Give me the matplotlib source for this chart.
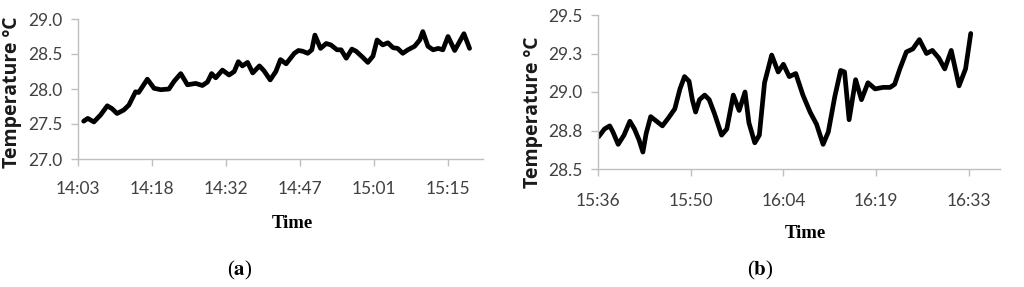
import matplotlib.pyplot as plt

# panel (a): minutes after 14:03, temperature
min_a = [1.1, 1.9, 3.1, 4.4, 5.7, 6.6, 7.6, 8.9, 9.9, 11.2, 11.8, 13.5, 14.8, 16.1,
         17.7, 18.7, 20.0, 21.3, 22.9, 24.2, 25.2, 26.0, 26.8, 28.1, 29.4, 30.4,
         31.2, 32.0, 33.0, 34.0, 35.3, 36.2, 37.4, 38.5, 39.4, 40.5, 42.1, 42.9,
         43.7, 44.7, 45.5, 46.1, 47.2, 48.3, 49.2, 50.4, 51.2, 52.2, 53.3, 54.1,
         55.3, 56.4, 57.4, 58.2, 59.3, 60.3, 61.3, 62.2, 63.2, 64.2, 65.5, 66.5,
         67.1, 68.1, 69.1, 70.1, 71.0, 72.0, 73.3, 75.1, 76.2]
temp_a = [27.54, 27.58, 27.53, 27.63, 27.76, 27.72, 27.65, 27.70, 27.77, 27.96, 27.95,
          28.14, 28.01, 27.99, 28.00, 28.11, 28.22, 28.06, 28.08, 28.05, 28.10, 28.22,
          28.16, 28.27, 28.20, 28.25, 28.39, 28.33, 28.38, 28.23, 28.33, 28.26, 28.13,
          28.25, 28.42, 28.36, 28.51, 28.55, 28.54, 28.51, 28.56, 28.77, 28.58, 28.65,
          28.63, 28.56, 28.56, 28.44, 28.57, 28.54, 28.46, 28.38, 28.47, 28.70, 28.63,
          28.66, 28.59, 28.58, 28.51, 28.56, 28.61, 28.70, 28.82, 28.61, 28.56, 28.58,
          28.56, 28.75, 28.55, 28.79, 28.58]
labels_a = ["14:03", "14:18", "14:32", "14:47", "15:01", "15:15"]

# panel (b): minutes after 15:36, temperature
min_b = [0.1, 1.0, 1.8, 2.3, 3.1, 4.0, 4.9, 5.6, 6.3, 6.9, 7.4, 8.1, 9.0, 9.9, 10.8,
         11.8, 12.6, 13.3, 14.0, 14.5, 15.0, 15.6, 16.4, 17.1, 17.9, 19.0, 19.8,
         20.8, 21.7, 22.6, 23.2, 24.1, 24.8, 25.6, 26.7, 27.7, 28.5, 29.4, 30.4,
         31.5, 32.6, 33.6, 34.6, 35.4, 36.4, 37.3, 37.9, 38.6, 39.6, 40.5, 41.5,
         42.6, 43.8, 44.9, 45.6, 46.4, 47.4, 48.4, 49.4, 50.5, 51.4, 52.4, 53.3,
         54.3, 55.5, 56.5, 57.3]
temp_b = [28.71, 28.76, 28.78, 28.74, 28.66, 28.72, 28.81, 28.76, 28.69, 28.61, 28.73,
          28.84, 28.81, 28.78, 28.83, 28.89, 29.02, 29.10, 29.07, 28.95, 28.87, 28.95,
          28.98, 28.95, 28.86, 28.72, 28.76, 28.98, 28.88, 29.00, 28.80, 28.67, 28.72,
          29.06, 29.24, 29.13, 29.18, 29.10, 29.12, 28.98, 28.87, 28.79, 28.66, 28.74,
          28.97, 29.14, 29.13, 28.82, 29.08, 28.95, 29.06, 29.02, 29.03, 29.03, 29.05,
          29.15, 29.26, 29.28, 29.34, 29.25, 29.27, 29.22, 29.15, 29.27, 29.04, 29.15,
          29.38]
labels_b = ["15:36", "15:50", "16:04", "16:19", "16:33"]

W, H = 1024, 287
fig = plt.figure(figsize=(W / 100, H / 100), dpi=100)
plt.rcParams["mathtext.fontset"] = "stix"

tick_font = dict(family="Lato", size=12.5, color="#404040")
grey = "#bfbfbf"


def setup(ax, step, labels, xmax, yticks, ylabels, ylim, xpad):
    ax.set_xlim(0, xmax)
    ax.set_ylim(*ylim)
    ax.set_xticks([step * i for i in range(len(labels))])
    ax.set_xticklabels(labels, **tick_font)
    ax.set_yticks(yticks)
    ax.set_yticklabels(ylabels, **tick_font)
    for s in ["top", "right"]:
        ax.spines[s].set_visible(False)
    for s in ["left", "bottom"]:
        ax.spines[s].set_color(grey)
        ax.spines[s].set_linewidth(1)
    ax.tick_params(axis="both", colors=grey, length=5, width=1, labelcolor="#404040")
    ax.tick_params(axis="x", pad=xpad)
    ax.tick_params(axis="y", pad=6)


# panel (a)
ax1 = fig.add_axes([78 / W, 1 - 159 / H, (483 - 78) / W, 140 / H])
ax1.plot(min_a, temp_a, color="black", lw=3.4, solid_joinstyle="round",
         solid_capstyle="round")
setup(ax1, 14.4, labels_a, 14.4 * 405 / 74, [27.0, 27.5, 28.0, 28.5, 29.0],
      ["27.0", "27.5", "28.0", "28.5", "29.0"], (27.0, 29.0), 11)

# panel (b)
ax2 = fig.add_axes([598 / W, 1 - 169 / H, (1000 - 598) / W, 154 / H])
ax2.plot(min_b, temp_b, color="black", lw=3.4, solid_joinstyle="round",
         solid_capstyle="round")
setup(ax2, 14.25, labels_b, 14.25 * 402 / 92.7, [28.5, 28.75, 29.0, 29.25, 29.5],
      ["28.5", "28.8", "29.0", "29.3", "29.5"], (28.5, 29.5), 12)

ylab = dict(family="Open Sans", weight="bold", size=14, color="#1a1a1a",
            rotation=90, ha="center", va="center")
fig.text(12 / W, 1 - 92 / H, "Temperature ºC", **ylab)
fig.text(533 / W, 1 - 112 / H, "Temperature ºC", **ylab)

tlab = dict(family="Liberation Serif", weight="bold", size=13.5, color="black",
            ha="center", va="center")
fig.text(292 / W, 1 - 223 / H, "Time", **tlab)
fig.text(805 / W, 1 - 233 / H, "Time", **tlab)

cap = dict(family="Liberation Serif", size=15, color="black", ha="center", va="center")
fig.text(240 / W, 1 - 270 / H, r"($\mathbf{a}$)", **cap)
fig.text(760 / W, 1 - 270 / H, r"($\mathbf{b}$)", **cap)

fig.savefig("out.png", dpi=100)
